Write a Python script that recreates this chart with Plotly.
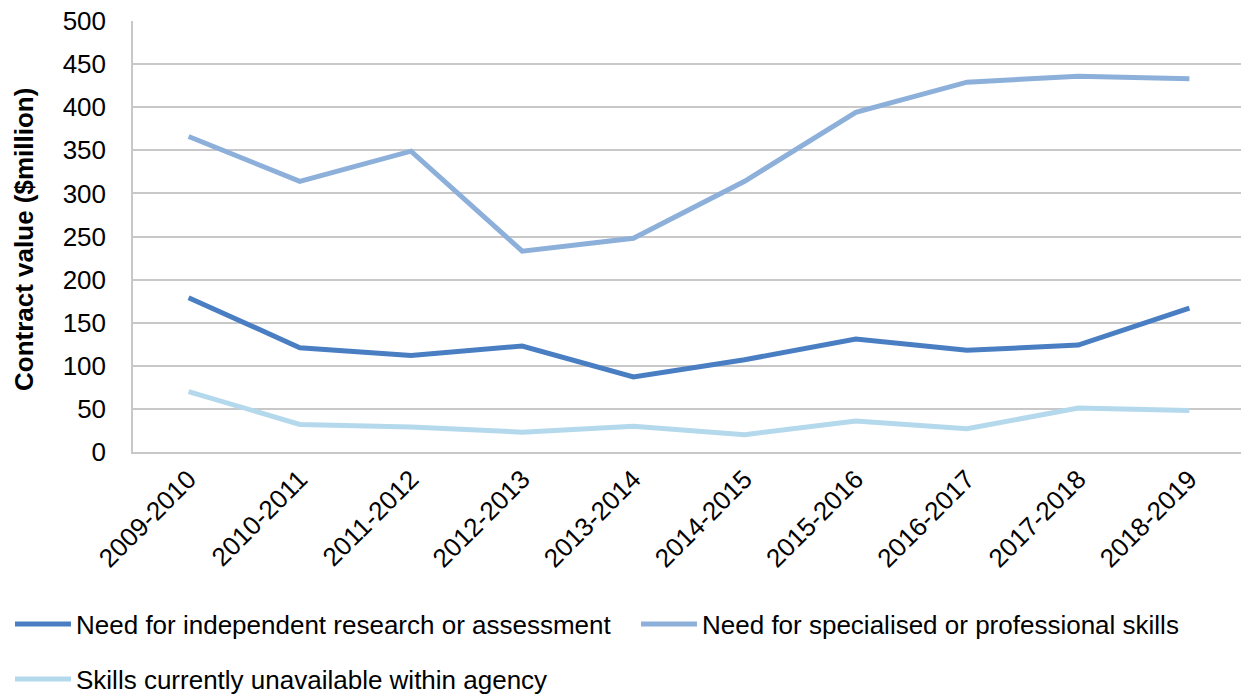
import plotly.graph_objects as go

years = ["2009-2010", "2010-2011", "2011-2012", "2012-2013", "2013-2014",
         "2014-2015", "2015-2016", "2016-2017", "2017-2018", "2018-2019"]
independent_research = [179, 121, 112, 123, 87, 107, 131, 118, 124, 167]
specialised_skills = [366, 314, 349, 233, 248, 314, 394, 429, 436, 433]
skills_unavailable = [70, 32, 29, 23, 30, 20, 36, 27, 51, 48]

names = ["Need for independent research or assessment",
         "Need for specialised or professional skills",
         "Skills currently unavailable within agency"]
colors = ["#4A7EC2", "#8DB0DA", "#B4D9EC"]

W, H = 1241, 697
L, T, B = 133, 21, 452
pw = W - L
ph = B - T

def px_x(p):
    return (p - L) / pw

def px_y(p):
    return (B - p) / ph

font_family = "Liberation Sans, Arial, sans-serif"

fig = go.Figure()
series = [independent_research, specialised_skills, skills_unavailable]
legend_ids = ["legend", "legend2", "legend3"]
for vals, nm, col, lg in zip(series, names, colors, legend_ids):
    fig.add_trace(go.Scatter(x=list(range(len(years))), y=vals, name=nm,
                             mode="lines", line=dict(color=col, width=5), legend=lg))

legend_pos = [(10, 624), (636, 624), (10, 679)]
legend_cfg = {}
for lg, (lx, ly) in zip(legend_ids, legend_pos):
    legend_cfg[lg] = dict(
        orientation="h", x=px_x(lx), y=px_y(ly), xanchor="left", yanchor="middle",
        font=dict(size=26, family=font_family, color="#000000"),
        bgcolor="rgba(0,0,0,0)", itemwidth=56,
    )

fig.update_layout(
    width=W, height=H,
    margin=dict(l=L, r=0, t=T, b=H - B, autoexpand=False),
    paper_bgcolor="white", plot_bgcolor="white",
    font=dict(family=font_family, size=26, color="#000000"),
    xaxis=dict(
        range=[-0.5, -0.5 + pw / 111.2],
        tickmode="array", tickvals=list(range(len(years))), ticktext=years,
        tickangle=-45, showgrid=False, zeroline=False,
        showline=True, linecolor="#c8c8c8", linewidth=1.5,
        ticks="", tickfont=dict(size=26),
    ),
    yaxis=dict(
        range=[0, 500], tickmode="array", tickvals=list(range(0, 501, 50)),
        showgrid=True, gridcolor="#c8c8c8", gridwidth=1.5,
        zeroline=False, showline=True, linecolor="#c8c8c8", linewidth=1.5,
        ticks="", tickfont=dict(size=26), ticklabelstandoff=20,
    ),
    showlegend=True,
    **legend_cfg,
)

fig.add_annotation(
    text="<b>Contract value ($million)</b>", textangle=-90,
    xref="paper", yref="paper", x=px_x(24), y=px_y(240),
    xanchor="center", yanchor="middle", showarrow=False,
    font=dict(size=26, family=font_family, color="#000000"),
)

fig.write_html("out.html")
